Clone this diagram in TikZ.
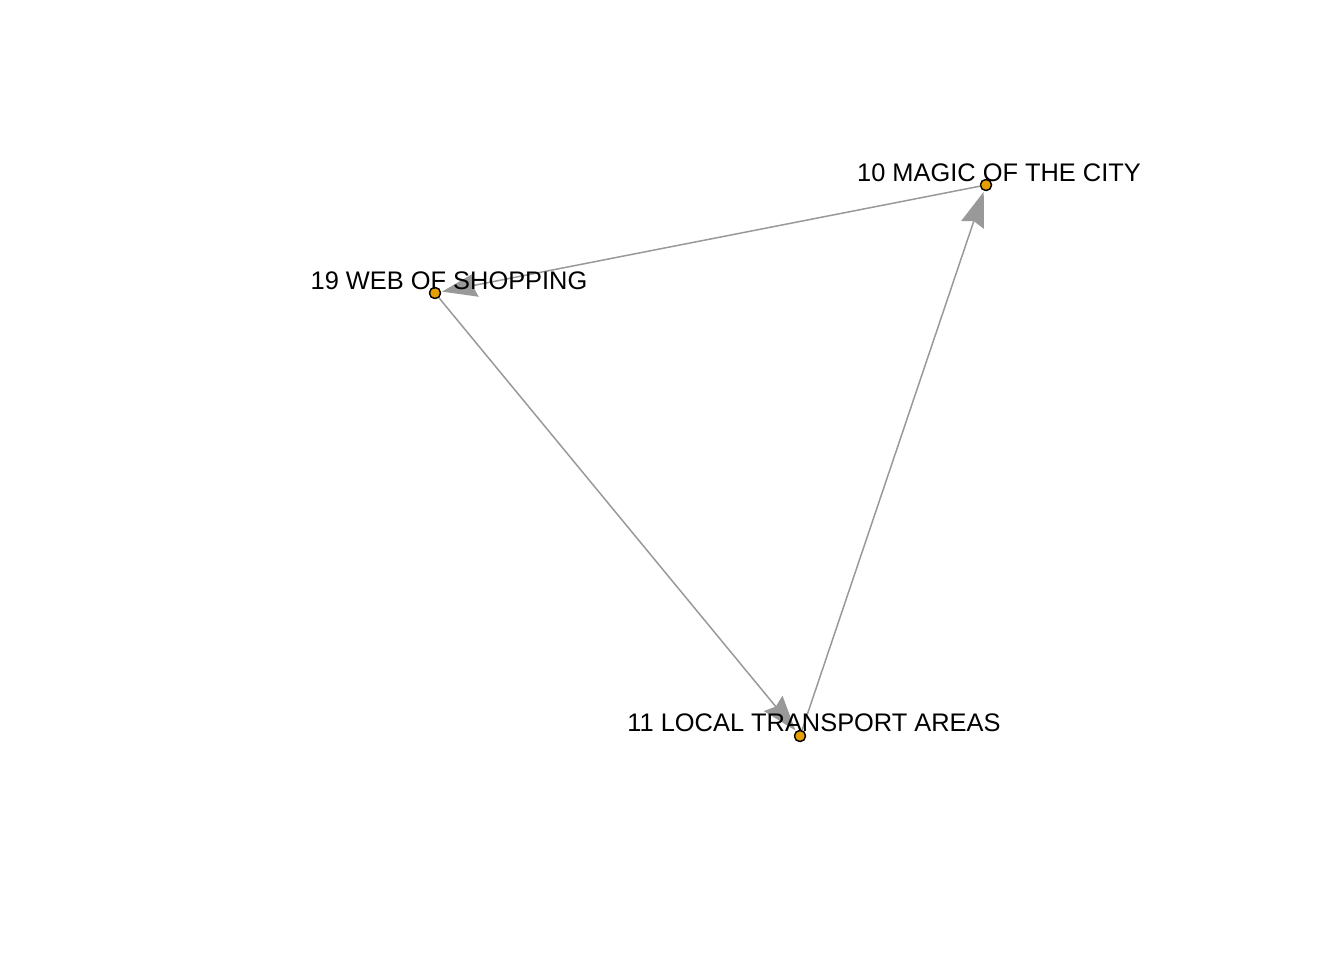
\documentclass[tikz,border=0pt]{standalone}
\usepackage{fontspec}
\setmainfont{Liberation Sans}
\usetikzlibrary{arrows.meta}
\definecolor{edgegray}{RGB}{153,153,153}
\definecolor{vfill}{RGB}{230,159,0}
\begin{document}
\begin{tikzpicture}[x=1pt,y=-1pt,
  vertex/.style={circle,draw=black,fill=vfill,line width=1.3pt,inner sep=0pt,minimum size=11pt},
  vlabel/.style={font=\fontsize{25.4}{28}\selectfont,inner sep=0pt,text=black},
  edge/.style={draw=edgegray,line width=1.5pt,
    -{Stealth[length=35pt,width=24pt,inset=4pt,fill=edgegray]},shorten >=1pt}]
  \useasboundingbox (0,0) rectangle (1344,960);
  % vertices
  \node[vertex] (v10) at (986,185) {};
  \node[vertex] (v19) at (435,293) {};
  \node[vertex] (v11) at (800,736) {};
  % directed edges
  \draw[edge] (v10.center) -- (v19);
  \draw[edge] (v19.center) -- (v11);
  \draw[edge] (v11.center) -- (v10);
  % redraw vertices above edges
  \node[vertex] at (v10.center) {};
  \node[vertex] at (v19.center) {};
  \node[vertex] at (v11.center) {};
  % labels
  \node[vlabel] (l10) at (999,173) {10 MAGIC OF THE CITY};
  \node[vlabel] (l19) at (449,281) {19 WEB OF SHOPPING};
  \node[vlabel] (l11) at (814,723) {11 LOCAL TRANSPORT AREAS};
\end{tikzpicture}
\end{document}
